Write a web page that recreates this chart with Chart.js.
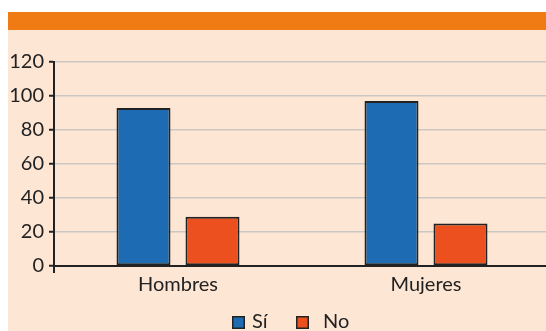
<!DOCTYPE html>
<html>
<head>
<meta charset="utf-8">
<script src="https://cdn.jsdelivr.net/npm/chart.js@4"></script>
<style>
  html, body { margin: 0; padding: 0; background: #ffffff; overflow: hidden; width: 546px; height: 331px; }
  #band { position: absolute; left: 8px; top: 12px; width: 538px; height: 18px; background: #f07a14; }
  #panel { position: absolute; left: 8px; top: 30px; width: 538px; height: 301px; background: #fee6d5; }
  #wrap { position: absolute; left: 0; top: 0; width: 550px; height: 331px; }
</style>
</head>
<body>
<div id="band"></div>
<div id="panel"></div>
<div id="wrap"><canvas id="c" width="550" height="331"></canvas></div>
<script>
const categories = ['Hombres', 'Mujeres'];
const seriesNames = ['Sí', 'No'];
const valuesSi = [93, 97];
const valuesNo = [29, 25];
const yTicks = [0, 20, 40, 60, 80, 100, 120];

const FONT = { family: 'Lato', size: 20 };
const INK = '#222222';
const colors = ['#1d6cb3', '#eb501e'];

// Legend drawn below the plot: square swatch followed by the series name
const bottomLegend = {
  id: 'bottomLegend',
  afterDraw(chart) {
    const ctx = chart.ctx;
    const slots = [{ x: 232, tx: 252 }, { x: 296, tx: 323 }];
    ctx.save();
    ctx.font = FONT.size + 'px ' + FONT.family;
    ctx.textBaseline = 'alphabetic';
    ctx.fillStyle = INK;
    chart.data.datasets.forEach((ds, i) => {
      const s = slots[i];
      ctx.fillStyle = ds.backgroundColor;
      ctx.fillRect(s.x, 316, 13, 13);
      ctx.lineWidth = 1.5;
      ctx.strokeStyle = INK;
      ctx.strokeRect(s.x + 0.75, 316.75, 11.5, 11.5);
      ctx.fillStyle = INK;
      ctx.fillText(ds.label, s.tx, 328);
    });
    ctx.restore();
  }
};

new Chart(document.getElementById('c'), {
  type: 'bar',
  data: {
    labels: categories,
    datasets: [
      { label: seriesNames[0], data: valuesSi, backgroundColor: colors[0] },
      { label: seriesNames[1], data: valuesNo, backgroundColor: colors[1] }
    ]
  },
  options: {
    responsive: false,
    animation: false,
    devicePixelRatio: 1,
    layout: { padding: { top: 62, right: 0, bottom: 0, left: 0 } },
    datasets: {
      bar: {
        categoryPercentage: 0.5565,
        barPercentage: 0.7826,
        borderColor: INK,
        borderWidth: 2,
        borderSkipped: false
      }
    },
    plugins: {
      legend: { display: false },
      tooltip: { enabled: false }
    },
    scales: {
      x: {
        afterFit(scale) { scale.height = 65; },
        border: { color: INK, width: 2 },
        grid: {
          drawOnChartArea: false,
          tickLength: 7,
          lineWidth: 2,
          color: (ctx) => (ctx.index === 0 ? INK : 'rgba(0,0,0,0)')
        },
        ticks: { color: INK, font: FONT, padding: 0 }
      },
      y: {
        min: 0,
        max: 120,
        afterFit(scale) { scale.width = 54; },
        afterBuildTicks(scale) { scale.ticks = yTicks.map(v => ({ value: v })); },
        border: { color: INK, width: 2 },
        grid: {
          color: '#cbc8c4',
          lineWidth: 1.5,
          tickColor: INK,
          tickLength: 5,
          tickWidth: 2
        },
        ticks: { color: INK, font: FONT, padding: 5 }
      }
    }
  },
  plugins: [bottomLegend]
});
</script>
</body>
</html>
